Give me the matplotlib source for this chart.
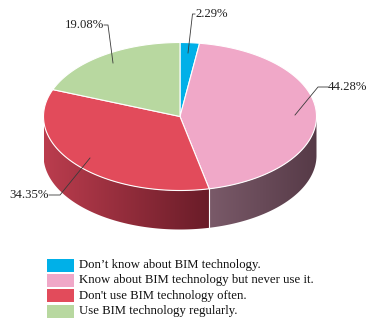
import numpy as np
import matplotlib.pyplot as plt
from matplotlib.patches import Polygon, Rectangle
from matplotlib.colors import to_rgb

# survey answers about BIM usage
labels = ["Don\u2019t know about BIM technology.",
          "Know about BIM technology but never use it.",
          "Don't use BIM technology often.",
          "Use BIM technology regularly."]
shares = [2.29, 44.28, 34.35, 19.08]
colors = ['#00b0e8', '#f0a8c8', '#e24b5b', '#b8d8a0']
# side wall shading (left -> right) for slices that face the viewer
side_cols = {1: ('#7a5a69', '#563a47'), 2: ('#bb3d4e', '#691c28')}

plt.rcParams['font.family'] = ['Liberation Serif', 'DejaVu Serif']

fig = plt.figure(figsize=(3.68, 3.24), dpi=100)
ax = fig.add_axes([0, 0, 1, 1])
ax.set_xlim(0, 368)
ax.set_ylim(324, 0)
ax.axis('off')

cx, cy, a, b, depth = 180, 116.5, 136.5, 74, 39


def ell(t, dy=0.0):
    t = np.radians(t)
    return cx + a * np.cos(t), cy - b * np.sin(t) + dy


# slice angles, clockwise from 12 o'clock
bounds = [90.0]
for s in shares:
    bounds.append(bounds[-1] - 360 * s / 100)

# side walls, shaded with a horizontal gradient
for i, (c0, c1) in side_cols.items():
    hi, lo = bounds[i], bounds[i + 1]
    t0, t1 = max(lo, -180), min(hi, 0)
    if t0 >= t1:
        continue
    ts = np.linspace(t0, t1, 150)
    xs, ys = ell(ts)
    pts = list(zip(xs, ys)) + list(zip(xs[::-1], ys[::-1] + depth))
    wall = Polygon(pts, closed=True, facecolor='none', edgecolor='none')
    ax.add_patch(wall)
    xa, xb = xs.min(), xs.max()
    ca, cb = np.array(to_rgb(c0)), np.array(to_rgb(c1))
    f = np.linspace(0, 1, 256)
    grad = (ca[None, :] + (cb - ca)[None, :] * f[:, None])[None, :, :]
    im = ax.imshow(grad, extent=(xa, xb, ys.max() + depth + 1, ys.min() - 1),
                   aspect='auto', interpolation='bilinear', zorder=1)
    im.set_clip_path(wall)

ax.set_xlim(0, 368)
ax.set_ylim(324, 0)

# divider on the side between pink and red
xd, yd = ell(bounds[2])
ax.plot([xd, xd], [yd, yd + depth], color='white', lw=0.8, zorder=2)

# top face
for i in range(len(shares)):
    ts = np.linspace(bounds[i], bounds[i + 1], 200)
    xs, ys = ell(ts)
    pts = [(cx, cy)] + list(zip(xs, ys))
    ax.add_patch(Polygon(pts, closed=True, facecolor=colors[i],
                         edgecolor='white', lw=0.8, joinstyle='round', zorder=3))

# percentage labels with leader lines
lc = '#3a3a3a'
lbl = dict(fontsize=9.2, color='#222222', va='center', zorder=5)
ax.plot([195, 192.5, 188], [14, 14, 53], color=lc, lw=0.6, zorder=4)
ax.text(195, 14, f'{shares[0]:.2f}%', ha='left', **lbl)
ax.plot([295, 318, 328], [115, 87, 87], color=lc, lw=0.6, zorder=4)
ax.text(328, 87, f'{shares[1]:.2f}%', ha='left', **lbl)
ax.plot([90, 60, 49], [158, 195, 195], color=lc, lw=0.6, zorder=4)
ax.text(49, 195, f'{shares[2]:.2f}%', ha='right', **lbl)
ax.plot([113, 108, 104], [63, 25, 25], color=lc, lw=0.6, zorder=4)
ax.text(104, 25, f'{shares[3]:.2f}%', ha='right', **lbl)

# legend
for i, name in enumerate(labels):
    y = 265 + i * 15.4
    ax.add_patch(Rectangle((47, y - 6.5), 27, 13, facecolor=colors[i], edgecolor='none'))
    ax.text(79, y, name, fontsize=9.2, color='#111111', va='center', ha='left')

fig.savefig('out.png', dpi=100)
